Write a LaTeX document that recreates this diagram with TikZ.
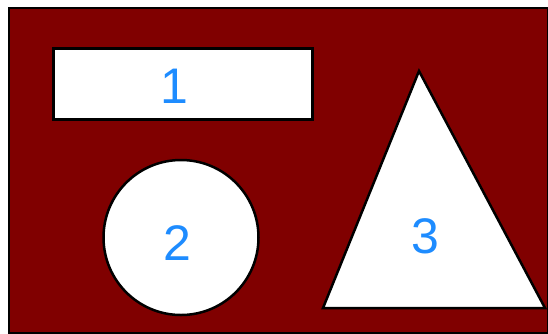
\documentclass[tikz,border=0pt]{standalone}
\usepackage{fontspec}
\setmainfont{Liberation Sans}
\definecolor{bgred}{HTML}{800000}
\definecolor{numblue}{HTML}{1E8CFF}
\tikzset{
  frame/.style={fill=bgred, draw=black, line width=2pt},
  shapebox/.style={fill=white, draw=black, line width=2.5pt},
  numlabel/.style={text=numblue, font=\fontsize{50}{50}\selectfont, inner sep=0pt}
}
\begin{document}
\begin{tikzpicture}[x=1pt,y=-1pt]
\useasboundingbox (0,0) rectangle (548,333);
\fill[white] (0,0) rectangle (548,333);
\draw[frame] (9,8) rectangle (548,333);
\node[shapebox, rectangle, minimum width=259pt, minimum height=71pt, inner sep=0pt] (r1) at (183,84) {};
\node[shapebox, circle, minimum size=155pt, inner sep=0pt] (c2) at (181,237.5) {};
\draw[shapebox, line join=miter] (419,71) coordinate (t3a) -- (545,308) coordinate (t3b) -- (323,308) coordinate (t3c) -- cycle;
\node[numlabel] (l1) at (174,86) {1};
\node[numlabel] (l2) at (177,243) {2};
\node[numlabel] (l3) at (425,236) {3};
\end{tikzpicture}
\end{document}
